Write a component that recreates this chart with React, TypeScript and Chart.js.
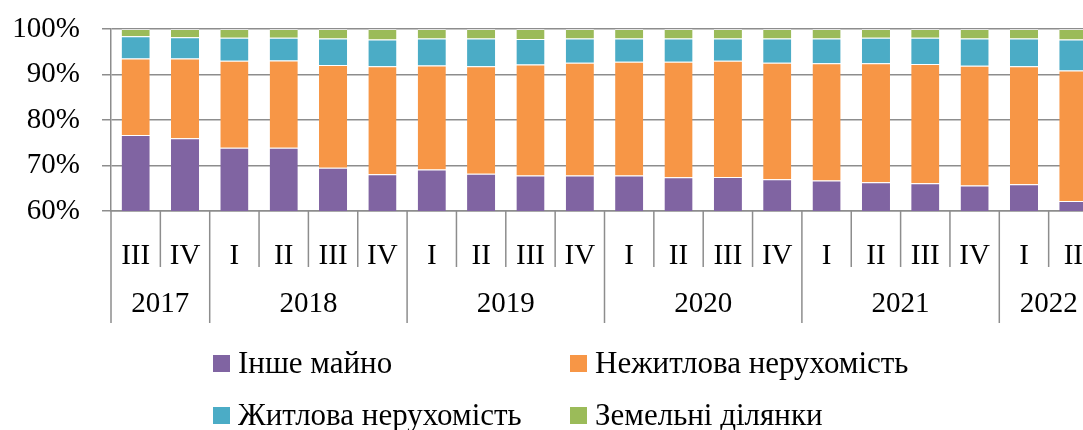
import React, { useEffect, useRef } from "react";
import { Chart, registerables } from "chart.js";

Chart.register(...registerables);

const quarters = ["III", "IV", "I", "II", "III", "IV", "I", "II", "III", "IV", "I", "II", "III", "IV", "I", "II", "III", "IV", "I", "II"];
const years = ["2017", "2017", "2018", "2018", "2018", "2018", "2019", "2019", "2019", "2019", "2020", "2020", "2020", "2020", "2021", "2021", "2021", "2021", "2022", "2022"];

const otherProperty = [76.7, 76.0, 73.9, 73.9, 69.5, 68.1, 69.1, 68.2, 67.8, 67.8, 67.8, 67.4, 67.5, 67.0, 66.7, 66.3, 66.1, 65.6, 65.9, 62.2];
const nonResidential = [16.8, 17.5, 19.1, 19.2, 22.6, 23.7, 22.9, 23.6, 24.4, 24.8, 25.0, 25.4, 25.5, 25.6, 25.8, 26.2, 26.2, 26.3, 25.9, 28.7];
const residential = [4.9, 4.7, 5.1, 5.0, 5.8, 5.9, 5.9, 6.1, 5.6, 5.3, 5.1, 5.1, 4.9, 5.3, 5.4, 5.6, 5.8, 6.0, 6.1, 6.8];
const landPlots = [1.6, 1.8, 1.9, 1.9, 2.1, 2.3, 2.1, 2.1, 2.2, 2.1, 2.1, 2.1, 2.1, 2.1, 2.1, 1.9, 1.9, 2.1, 2.1, 2.3];

const seriesNames = ["Інше майно", "Нежитлова нерухомість", "Житлова нерухомість", "Земельні ділянки"];
const seriesColors = ["#8064A2", "#F79646", "#4BACC6", "#9BBB59"];

const FONT = '"Liberation Serif", "Times New Roman", serif';
const GRID = "#8d8d8d";

const axisPlugin = {
  id: "groupAxis",
  afterDraw(chart: any) {
    const ctx = chart.ctx;
    const x = chart.scales.x;
    const n = quarters.length;
    const top = chart.chartArea.bottom;
    const cw = n > 1 ? x.getPixelForValue(1) - x.getPixelForValue(0) : 0;
    ctx.save();
    ctx.strokeStyle = GRID;
    ctx.lineWidth = 1.5;
    for (let i = 0; i <= n; i++) {
      const px = x.getPixelForValue(0) + (i - 0.5) * cw;
      const isYear = i === 0 || i === n || years[i] !== years[i - 1];
      ctx.beginPath();
      ctx.moveTo(px, top);
      ctx.lineTo(px, isYear ? top + 112 : top + 56);
      ctx.stroke();
    }
    ctx.fillStyle = "#000";
    ctx.font = `29px ${FONT}`;
    ctx.textAlign = "center";
    ctx.textBaseline = "middle";
    let start = 0;
    for (let i = 1; i <= n; i++) {
      if (i === n || years[i] !== years[start]) {
        const mid = (x.getPixelForValue(start) + x.getPixelForValue(i - 1)) / 2;
        ctx.fillText(years[start], mid, top + 93);
        start = i;
      }
    }
    ctx.restore();
  },
};

const legendPlugin = {
  id: "gridLegend",
  afterDraw(chart: any) {
    const ctx = chart.ctx;
    const cols = [213, 570];
    const rows = [373, 425];
    ctx.save();
    chart.data.datasets.forEach((ds: any, i: number) => {
      const lx = cols[i % 2];
      const ly = rows[Math.floor(i / 2)];
      ctx.fillStyle = ds.backgroundColor;
      ctx.fillRect(lx, ly - 18, 17, 17);
      ctx.fillStyle = "#000";
      ctx.font = `31px ${FONT}`;
      ctx.textAlign = "left";
      ctx.textBaseline = "alphabetic";
      ctx.fillText(ds.label, lx + 25, ly);
    });
    ctx.restore();
  },
};

export default function App() {
  const ref = useRef<HTMLCanvasElement>(null);
  useEffect(() => {
    if (!ref.current) return;
    const values = [otherProperty, nonResidential, residential, landPlots];
    const chart = new Chart(ref.current, {
      type: "bar",
      data: {
        labels: quarters,
        datasets: values.map((v, i) => ({
          label: seriesNames[i],
          data: v,
          backgroundColor: seriesColors[i],
          borderColor: "rgba(255,255,255,0.55)",
          borderWidth: { top: 1, bottom: 0, left: 0, right: 0 },
          borderSkipped: false,
          categoryPercentage: 1,
          barPercentage: 0.57,
        })),
      },
      options: {
        responsive: false,
        animation: false,
        layout: { padding: { top: 29, right: 12, bottom: 0, left: 0 } },
        plugins: { legend: { display: false }, tooltip: { enabled: false } },
        scales: {
          x: {
            stacked: true,
            afterFit: (s: any) => { s.height = 219; },
            grid: { display: false },
            border: { display: true, color: GRID, width: 1.5 },
            ticks: { color: "#000", font: { family: FONT, size: 29 }, padding: 20, autoSkip: false, maxRotation: 0 },
          },
          y: {
            stacked: true,
            min: 60,
            max: 100,
            afterFit: (s: any) => { s.width = 111; s.paddingTop = 0; s.paddingBottom = 0; },
            grid: { color: GRID, lineWidth: 1.5, tickLength: 9 },
            border: { display: true, color: GRID, width: 1.5 },
            ticks: { stepSize: 10, color: "#000", font: { family: FONT, size: 29 }, padding: 22, callback: (v: any) => v + "%" },
          },
        },
      },
      plugins: [axisPlugin, legendPlugin],
    });
    return () => chart.destroy();
  }, []);
  return (
    <div style={{ position: "fixed", left: 0, top: 0, width: 1083, height: 430, overflow: "hidden", background: "#fff" }}>
      <canvas ref={ref} width={1110} height={430} style={{ display: "block" }} />
    </div>
  );
}
